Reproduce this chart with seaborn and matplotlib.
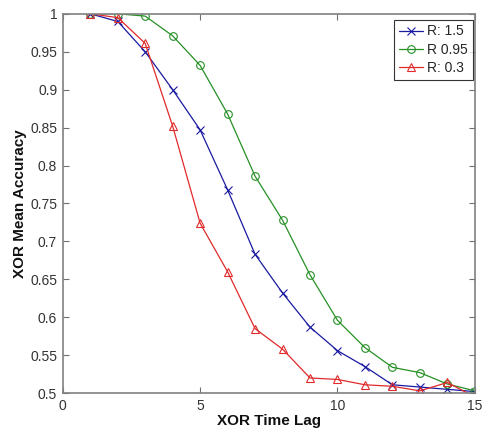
import numpy as np
import pandas as pd
import matplotlib
matplotlib.use("Agg")
import matplotlib.pyplot as plt
from matplotlib.ticker import FuncFormatter
import seaborn as sns

# time lags
lag = [1, 2, 3, 4, 5, 6, 7, 8, 9, 10, 11, 12, 13, 14, 15]

# mean accuracy per R value
acc_r15 = [1.0, 0.990, 0.950, 0.900, 0.847, 0.768, 0.683, 0.632, 0.587, 0.556, 0.535, 0.511, 0.508, 0.505, 0.502]
acc_r095 = [1.0, 1.0, 0.997, 0.971, 0.932, 0.868, 0.786, 0.728, 0.656, 0.596, 0.560, 0.534, 0.527, 0.512, 0.503]
acc_r03 = [1.0, 0.995, 0.961, 0.852, 0.724, 0.660, 0.585, 0.558, 0.520, 0.518, 0.511, 0.509, 0.503, 0.514, 0.495]

labels = ["R: 1.5", "R 0.95", "R: 0.3"]
colors = ["#1a1aa0", "#259025", "#e02a2a"]
markers = ["x", "o", "^"]

sns.set_style("white")
plt.rcParams["font.family"] = ["Liberation Sans", "DejaVu Sans"]

fig = plt.figure(figsize=(4.83, 4.32), dpi=100)
ax = fig.add_axes([0.130, 0.090, 0.853, 0.878])

for vals, lab, col, mk in zip([acc_r15, acc_r095, acc_r03], labels, colors, markers):
    df = pd.DataFrame({"lag": lag, "acc": vals})
    sns.lineplot(data=df, x="lag", y="acc", ax=ax, color=col, marker=mk,
                 markersize=5.5, mfc="none", mec=col, mew=0.8, lw=0.9, label=lab)

ax.set_xlim(0, 15)
ax.set_ylim(0.5, 1)
ax.set_xticks([0, 5, 10, 15])
ax.set_yticks(np.arange(0.5, 1.001, 0.05))
ax.yaxis.set_major_formatter(FuncFormatter(lambda v, p: "%g" % round(v, 2)))

ax.set_xlabel("XOR Time Lag", fontsize=11, fontweight="bold", color="#111111", labelpad=1)
ax.set_ylabel("XOR Mean Accuracy", fontsize=11, fontweight="bold", color="#111111", labelpad=2)

for s in ax.spines.values():
    s.set_visible(True)
    s.set_color("#808080")
    s.set_linewidth(1.2)
ax.tick_params(direction="in", length=4, width=0.8, color="#707070",
               labelsize=10, labelcolor="#333333", top=True, right=True,
               bottom=True, left=True, pad=4)

leg = ax.legend(loc="upper right", bbox_to_anchor=(0.995, 0.985), fontsize=10,
                handlelength=1.7, handletextpad=0.3, borderpad=0.35,
                frameon=True, fancybox=False, edgecolor="black",
                borderaxespad=0.0, labelspacing=0.3)
leg.get_frame().set_linewidth(0.8)

fig.savefig("out.png", dpi=100)
